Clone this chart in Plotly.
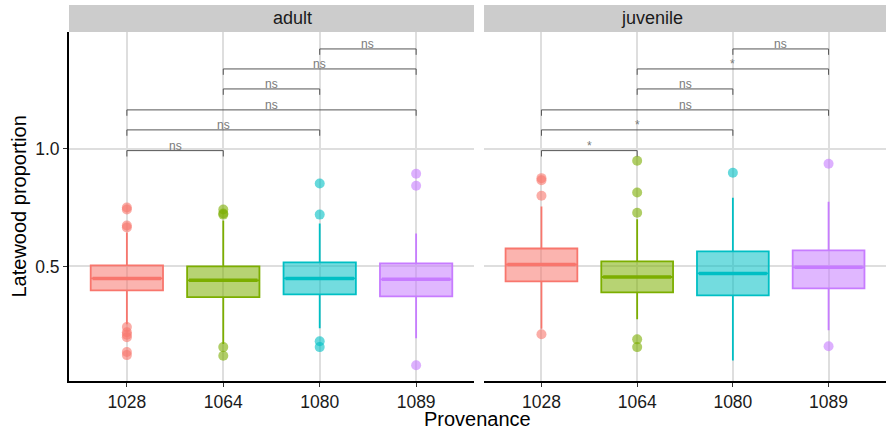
import plotly.graph_objects as go

# ---------------- data ----------------
groups = ["1028", "1064", "1080", "1089"]
colors = ["#F8766D", "#7CAE00", "#00BFC4", "#C77CFF"]
fills = ["rgba(248,118,109,0.55)", "rgba(124,174,0,0.55)", "rgba(0,191,196,0.55)", "rgba(199,124,255,0.55)"]
point_colors = ["rgba(248,118,109,0.6)", "rgba(124,174,0,0.6)", "rgba(0,191,196,0.6)", "rgba(199,124,255,0.6)"]

adult_q1 = [0.398, 0.369, 0.381, 0.373]
adult_median = [0.449, 0.441, 0.449, 0.445]
adult_q3 = [0.504, 0.500, 0.517, 0.513]
adult_lo = [0.254, 0.170, 0.237, 0.195]
adult_hi = [0.644, 0.695, 0.682, 0.640]
adult_outliers = [
    [0.750, 0.742, 0.674, 0.665, 0.242, 0.220, 0.210, 0.199, 0.136, 0.123],
    [0.742, 0.725, 0.720, 0.157, 0.120],
    [0.852, 0.720, 0.182, 0.157],
    [0.894, 0.843, 0.080],
]

juv_q1 = [0.436, 0.390, 0.377, 0.407]
juv_median = [0.508, 0.455, 0.470, 0.496]
juv_q3 = [0.576, 0.521, 0.564, 0.568]
juv_lo = [0.235, 0.275, 0.100, 0.229]
juv_hi = [0.754, 0.700, 0.792, 0.775]
juv_outliers = [
    [0.875, 0.866, 0.800, 0.212],
    [0.949, 0.814, 0.728, 0.190, 0.157],
    [0.898],
    [0.936, 0.161],
]

# comparisons (pairs of group indices), bracket heights and labels
pairs = [(0, 1), (0, 2), (0, 3), (1, 2), (1, 3), (2, 3)]
bracket_y = [0.992, 1.080, 1.165, 1.254, 1.339, 1.424]
adult_labels = ["ns", "ns", "ns", "ns", "ns", "ns"]
juv_labels = ["*", "*", "ns", "ns", "*", "ns"]

y_ticks = [0.5, 1.0]
y_tick_labels = ["0.5", "1.0"]

# ---------------- figure ----------------
fig = go.Figure()
BOX_W = 0.75
TICK_DROP = 0.025
FONT = "Liberation Sans, Arial, sans-serif"

panels = [
    ("x", "y", adult_q1, adult_median, adult_q3, adult_lo, adult_hi, adult_outliers, adult_labels),
    ("x2", "y2", juv_q1, juv_median, juv_q3, juv_lo, juv_hi, juv_outliers, juv_labels),
]

for xa, ya, q1, med, q3, lo, hi, outl, labels in panels:
    for i in range(len(groups)):
        fig.add_trace(go.Box(
            x=[i], q1=[q1[i]], median=[med[i]], q3=[q3[i]],
            lowerfence=[lo[i]], upperfence=[hi[i]],
            width=BOX_W, whiskerwidth=0, boxpoints=False,
            fillcolor=fills[i], line=dict(color=colors[i], width=1.8),
            xaxis=xa, yaxis=ya, showlegend=False, hoverinfo="skip",
        ))
        # thicker median line
        fig.add_trace(go.Scatter(
            x=[i - BOX_W / 2 + 0.02, i + BOX_W / 2 - 0.02], y=[med[i], med[i]],
            mode="lines", line=dict(color=colors[i], width=3.5),
            xaxis=xa, yaxis=ya, showlegend=False, hoverinfo="skip",
        ))
        # outliers
        fig.add_trace(go.Scatter(
            x=[i] * len(outl[i]), y=outl[i], mode="markers",
            marker=dict(color=point_colors[i], size=10, line=dict(width=0)),
            xaxis=xa, yaxis=ya, showlegend=False, hoverinfo="skip",
        ))
    # brackets
    for (a, b), yb, lab in zip(pairs, bracket_y, labels):
        fig.add_trace(go.Scatter(
            x=[a, a, b, b], y=[yb - TICK_DROP, yb, yb, yb - TICK_DROP],
            mode="lines", line=dict(color="#555555", width=1),
            xaxis=xa, yaxis=ya, showlegend=False, hoverinfo="skip",
        ))
        fig.add_annotation(
            x=(a + b) / 2, y=yb, xref=xa, yref=ya, text=lab, showarrow=False,
            yanchor="bottom", yshift=-4,
            font=dict(size=12, color="#7a7a7a", family=FONT),
        )

x_common = dict(
    range=[-0.6, 3.6], tickmode="array", tickvals=list(range(len(groups))),
    ticktext=groups, showgrid=True, gridcolor="#DEDEDE", gridwidth=1.6,
    zeroline=False, showline=True, linecolor="black", linewidth=1.8,
    ticks="outside", ticklen=4, tickcolor="#333333", tickwidth=1.2,
    tickfont=dict(size=17.5, color="#1a1a1a", family=FONT), fixedrange=True,
)
y_range = [0.013, 1.496]

L, R = 0.0, 1.0
split1, split2 = 0.4957, 0.508
fig.update_layout(
    width=887, height=434,
    margin=dict(l=69, r=1, t=32, b=53),
    plot_bgcolor="white", paper_bgcolor="white",
    font=dict(family=FONT),
    xaxis=dict(domain=[L, split1], anchor="y", **x_common),
    xaxis2=dict(domain=[split2, R], anchor="y2", **x_common),
    yaxis=dict(
        domain=[0, 1], range=y_range, tickmode="array", tickvals=y_ticks,
        ticktext=y_tick_labels, showgrid=True, gridcolor="#DEDEDE", gridwidth=1.6,
        zeroline=False, showline=True, linecolor="black", linewidth=1.8,
        ticks="outside", ticklen=4, tickcolor="#333333", tickwidth=1.2,
        tickfont=dict(size=17.5, color="#1a1a1a", family=FONT),
        anchor="x", fixedrange=True,
    ),
    yaxis2=dict(
        domain=[0, 1], range=y_range, tickmode="array", tickvals=y_ticks,
        showticklabels=False, showgrid=True, gridcolor="#DEDEDE", gridwidth=1.6,
        zeroline=False, showline=False, ticks="", anchor="x2", matches="y", fixedrange=True,
    ),
)

# facet strips
strip_top = 1 + 27 / 349
for (x0, x1), name in zip([(L, split1), (split2, R)], ["adult", "juvenile"]):
    fig.add_shape(type="rect", xref="paper", yref="paper", x0=x0, x1=x1,
                  y0=1.0, y1=strip_top, fillcolor="#CCCCCC", line=dict(width=0), layer="below")
    fig.add_annotation(x=(x0 + x1) / 2, y=(1 + strip_top) / 2, xref="paper", yref="paper",
                       text=name, showarrow=False, yanchor="middle",
                       font=dict(size=18, color="#1a1a1a", family=FONT))

# axis titles
fig.add_annotation(x=0.5, y=-38 / 349, xref="paper", yref="paper", text="Provenance",
                   showarrow=False, yanchor="middle", font=dict(size=20, color="black", family=FONT))
fig.add_annotation(x=-51 / 817, y=0.5, xref="paper", yref="paper", text="Latewood proportion",
                   textangle=-90, showarrow=False, xanchor="center", yanchor="middle",
                   font=dict(size=20, color="black", family=FONT))

fig.write_html("out.html", config={"displayModeBar": False},
               post_script="document.body.style.margin='0';document.body.style.padding='0';")
